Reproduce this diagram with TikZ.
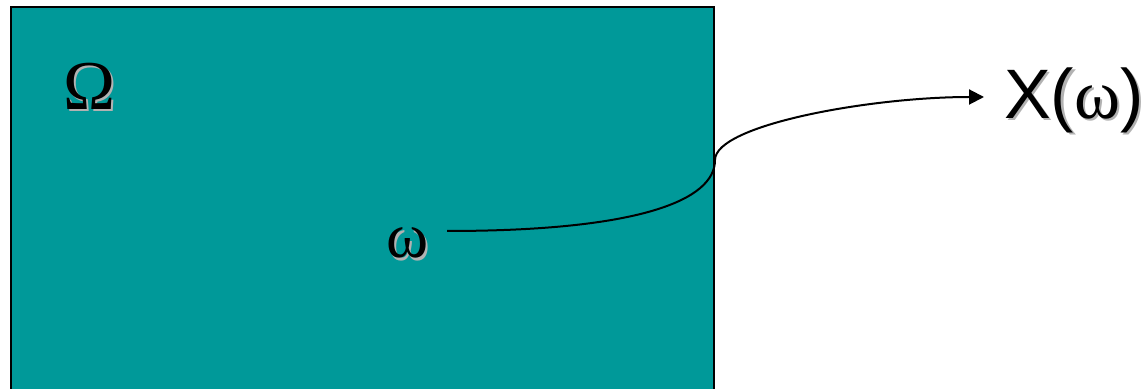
\documentclass[tikz,border=0pt]{standalone}
\usepackage{fontspec}
\setmainfont{Liberation Serif}
\newfontfamily\arialfont{Liberation Sans}
\usetikzlibrary{arrows.meta,calc}
\definecolor{tealfill}{RGB}{0,153,153}
\definecolor{shadowgray}{RGB}{178,178,178}
\newcommand{\shadowed}[3]{% name, position, text
  \node[text=shadowgray,anchor=west] at ($(#2)+(2.5,2.5)$) {#3};
  \node[anchor=west] (#1) at (#2) {#3};}
\begin{document}
\begin{tikzpicture}[x=0.5pt,y=-0.5pt,line width=1pt,font=\fontsize{35}{42}\selectfont,inner sep=0pt]
\useasboundingbox (0,0) rectangle (1144,389);
\clip (0,0) rectangle (1144,389);
\draw[fill=tealfill] (11,7) rectangle (714,400);
\shadowed{Omega}{62,86}{Ω}
\shadowed{omega}{385,243}{\fontsize{32}{38}\selectfont ω}
\shadowed{X}{1003,100}{{\arialfont X(}ω{\arialfont)}}
\coordinate (cross) at (715,160); \coordinate (tip) at (984,97);
\draw[-{Triangle[length=7.5pt,width=7.5pt]}] ([xshift=9]omega.east |- 0,231) .. controls (640,231) and (715,200) .. (cross)
  .. controls (715,125) and (870,97) .. (tip);
\end{tikzpicture}
\end{document}
